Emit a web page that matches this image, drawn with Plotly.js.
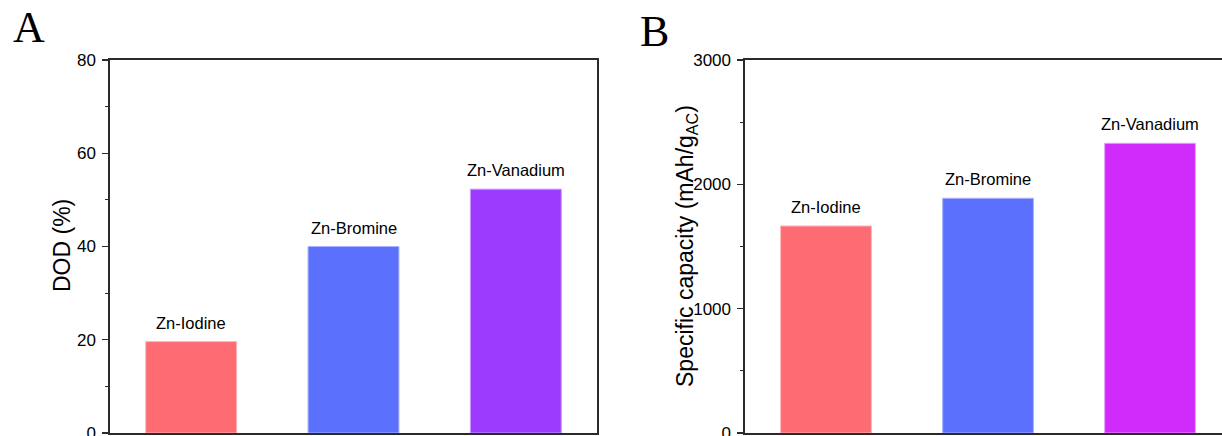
<!DOCTYPE html>
<html>
<head>
<meta charset="utf-8">
<script src="https://cdn.plot.ly/plotly-3.0.1.min.js"></script>
<style>html,body{margin:0;padding:0;background:#fff;}#chart{width:1222px;height:436px;}</style>
</head>
<body>
<div id="chart"></div>
<script>
// ---- data ----
const categories = ['Zn-Iodine', 'Zn-Bromine', 'Zn-Vanadium'];
const dodValues = [19.6, 40.0, 52.3];
const capacityValues = [1665, 1888, 2330];
const colorsA = ['#FD6B73', '#5B70FD', '#9C3BFD'];
const colorsB = ['#FD6B73', '#5B70FD', '#D12BFB'];
const edgeA = ['#FFB4B8', '#A9B4FF', '#C99BFF'];
const edgeB = ['#FFB4B8', '#A9B4FF', '#E89BFF'];
const dodTicks = [0, 20, 40, 60, 80];
const capTicks = [0, 1000, 2000, 3000];

const W = 1222, H = 436;
const px = v => v / W;
const py = v => 1 - v / H;
const idx = categories.map((_, i) => i);

const axisColor = '#2a2a2a';
const fontFam = 'Arial, "Liberation Sans", Helvetica, sans-serif';

const traces = [
  {type: 'bar', x: idx, y: dodValues, xaxis: 'x', yaxis: 'y', width: 0.56,
   marker: {color: colorsA, line: {color: edgeA, width: 1}}, hoverinfo: 'skip'},
  {type: 'bar', x: idx, y: capacityValues, xaxis: 'x2', yaxis: 'y2', width: 0.56,
   marker: {color: colorsB, line: {color: edgeB, width: 1}}, hoverinfo: 'skip'}
];

const yCommon = {
  showgrid: false, zeroline: false, showline: true, linecolor: axisColor, linewidth: 1.6,
  ticks: 'outside', ticklen: 6, tickwidth: 1.3, tickcolor: axisColor,
  tickfont: {family: fontFam, size: 17, color: '#000'}, ticklabelstandoff: 3,
  ticklabeloverflow: 'allow',
  domain: [py(433), py(60)]
};
const xCommon = {
  showgrid: false, zeroline: false, showline: true, linecolor: axisColor, linewidth: 2,
  ticks: '', showticklabels: false, mirror: true, fixedrange: true
};

const annotations = [];
categories.forEach((c, i) => {
  annotations.push({x: i, y: dodValues[i], xref: 'x', yref: 'y', text: c, showarrow: false,
    yanchor: 'bottom', yshift: 8, font: {family: fontFam, size: 16.5, color: '#000'}});
  annotations.push({x: i, y: capacityValues[i], xref: 'x2', yref: 'y2', text: c, showarrow: false,
    yanchor: 'bottom', yshift: 8, font: {family: fontFam, size: 16.5, color: '#000'}});
});
annotations.push({xref: 'paper', yref: 'paper', x: px(62), y: py(246), text: 'DOD (%)',
  textangle: -90, showarrow: false, xanchor: 'center', yanchor: 'middle',
  font: {family: fontFam, size: 23, color: '#000'}});
annotations.push({xref: 'paper', yref: 'paper', x: px(687), y: py(246),
  text: 'Specific capacity (mAh/g<sub>AC</sub>)',
  textangle: -90, showarrow: false, xanchor: 'center', yanchor: 'middle',
  font: {family: fontFam, size: 23, color: '#000'}});
annotations.push({xref: 'paper', yref: 'paper', x: px(11), y: py(1), text: 'A',
  showarrow: false, xanchor: 'left', yanchor: 'top',
  font: {family: '"Liberation Serif", "Times New Roman", serif', size: 44, color: '#000'}});
annotations.push({xref: 'paper', yref: 'paper', x: px(638), y: py(5), text: 'B',
  showarrow: false, xanchor: 'left', yanchor: 'top',
  font: {family: '"Liberation Serif", "Times New Roman", serif', size: 44, color: '#000'}});

const layout = {
  width: W, height: H,
  margin: {l: 0, r: 0, t: 0, b: 0, pad: 0},
  paper_bgcolor: '#fff', plot_bgcolor: '#fff',
  showlegend: false,
  xaxis: Object.assign({}, xCommon, {domain: [px(110), px(597)], range: [-0.5, 2.5], anchor: 'y'}),
  xaxis2: Object.assign({}, xCommon, {domain: [px(745), 1], range: [-0.5, 2.444], anchor: 'y2'}),
  yaxis: Object.assign({}, yCommon, {range: [0, 80], tickvals: dodTicks, mirror: true, anchor: 'x',
    minor: {dtick: 10, ticks: 'outside', ticklen: 3, tickwidth: 1.2, tickcolor: axisColor}}),
  yaxis2: Object.assign({}, yCommon, {range: [0, 3000], tickvals: capTicks, anchor: 'x2',
    minor: {dtick: 500, ticks: 'outside', ticklen: 3, tickwidth: 1.2, tickcolor: axisColor}}),
  annotations: annotations
};

Plotly.newPlot('chart', traces, layout, {displayModeBar: false, staticPlot: true});
</script>
</body>
</html>
